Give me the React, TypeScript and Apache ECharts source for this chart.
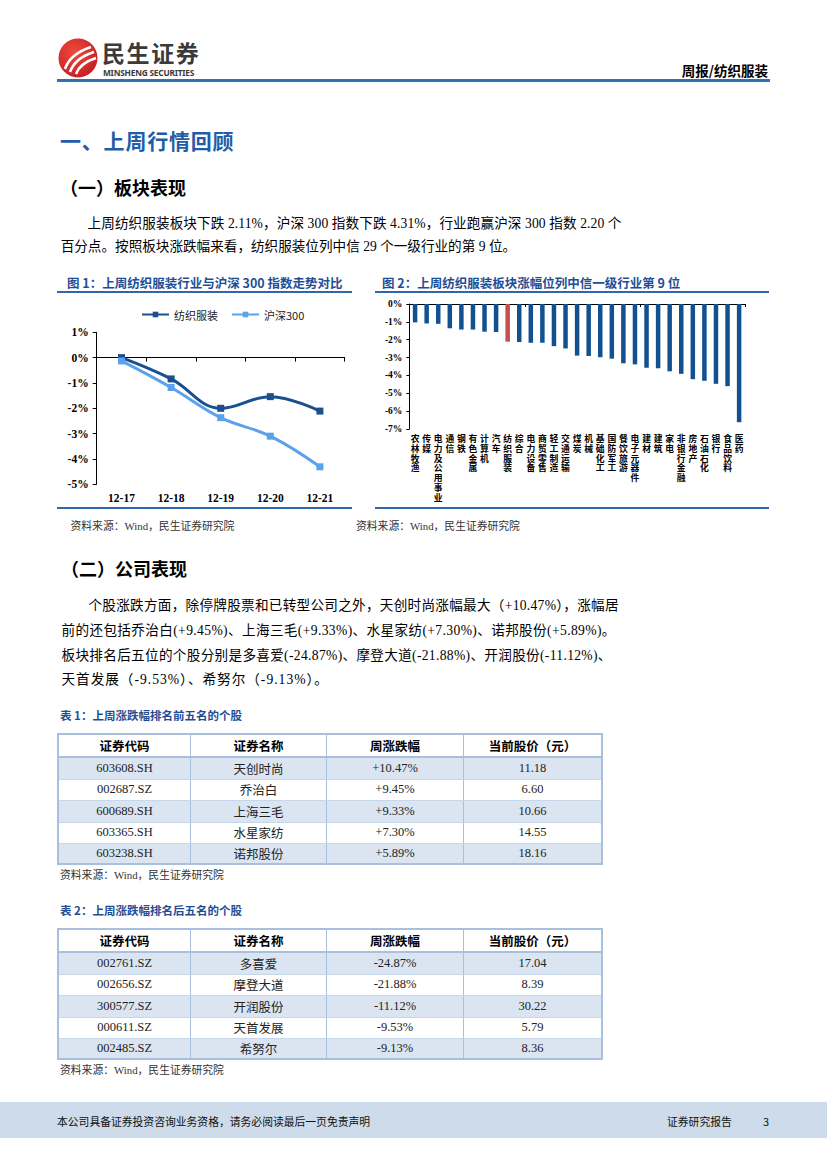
import React, { useEffect, useRef } from "react";
import * as echarts from "echarts";

// ---------- data ----------
const lineDates = ["12-17", "12-18", "12-19", "12-20", "12-21"];
const textileSeries = [0.0, -0.84, -2.0, -1.54, -2.11];
const hs300Series = [-0.13, -1.18, -2.37, -3.1, -4.31];
const lineSeriesNames = ["纺织服装", "沪深300"];

const industries = [
  "农林牧渔", "传媒", "电力及公用事业", "通信", "钢铁", "有色金属", "计算机", "汽车",
  "纺织服装", "综合", "电力设备", "商贸零售", "轻工制造", "交通运输", "煤炭", "机械",
  "基础化工", "国防军工", "餐饮旅游", "电子元器件", "建材", "建筑", "家电", "非银行金融",
  "房地产", "石油石化", "银行", "食品饮料", "医药",
];
const industryChanges = [
  -1.03, -1.09, -1.11, -1.36, -1.43, -1.43, -1.55, -1.57,
  -2.11, -2.13, -2.17, -2.17, -2.36, -2.49, -2.89, -2.91,
  -2.98, -3.06, -3.32, -3.38, -3.57, -3.6, -3.77, -3.91,
  -4.21, -4.3, -4.47, -4.6, -6.62,
];
const highlightIndustry = "纺织服装";

const tableHeaders = ["证券代码", "证券名称", "周涨跌幅", "当前股价（元）"];
const topCodes = ["603608.SH", "002687.SZ", "600689.SH", "603365.SH", "603238.SH"];
const topNames = ["天创时尚", "乔治白", "上海三毛", "水星家纺", "诺邦股份"];
const topChanges = ["+10.47%", "+9.45%", "+9.33%", "+7.30%", "+5.89%"];
const topPrices = ["11.18", "6.60", "10.66", "14.55", "18.16"];
const bottomCodes = ["002761.SZ", "002656.SZ", "300577.SZ", "000611.SZ", "002485.SZ"];
const bottomNames = ["多喜爱", "摩登大道", "开润股份", "天首发展", "希努尔"];
const bottomChanges = ["-24.87%", "-21.88%", "-11.12%", "-9.53%", "-9.13%"];
const bottomPrices = ["17.04", "8.39", "30.22", "5.79", "8.36"];

// ---------- styles ----------
const CJK = "'Noto Sans CJK SC', sans-serif";
const SERIF = "'Liberation Serif', 'Noto Sans CJK SC', serif";
const TITLE_BLUE = "#1F5DA8";
const FIG_BLUE = "#1F4E96";
const DARK_LINE = "#1B4F8E";
const LIGHT_LINE = "#5BA2EC";
const BAR_BLUE = "#13508F";
const BAR_RED = "#C4504D";

type TProps = {
  x: number; y: number; size: number; children: React.ReactNode;
  right?: boolean; bold?: boolean; color?: string; font?: string; ls?: number; lh?: number;
};
function T({ x, y, size, children, right, bold, color, font, ls, lh }: TProps) {
  const h = lh || Math.round(size * 1.3);
  const st: React.CSSProperties = {
    position: "absolute",
    top: y - h / 2,
    height: h,
    lineHeight: h + "px",
    fontSize: size,
    whiteSpace: "nowrap",
    fontWeight: bold ? 700 : 400,
    color: color || "#000",
    fontFamily: font || SERIF,
    letterSpacing: ls ? ls + "px" : undefined,
  };
  if (right) st.right = 827 - x; else st.left = x;
  return <div style={st}>{children}</div>;
}

function LineChart() {
  const ref = useRef<HTMLDivElement>(null);
  useEffect(() => {
    const chart = echarts.init(ref.current!, undefined, { renderer: "svg" });
    const axisFont = { fontFamily: "'Liberation Serif', serif", fontWeight: "bold" as const, color: "#000" };
    chart.setOption({
      animation: false,
      legend: {
        data: lineSeriesNames,
        left: 79,
        top: 9,
        itemWidth: 27,
        itemHeight: 7,
        itemGap: 13,
        textStyle: { fontSize: 11, fontFamily: CJK, color: "#222" },
      },
      grid: { left: 39.7, right: 7.3, top: 37.3, bottom: 22.7 },
      xAxis: {
        type: "category",
        data: lineDates,
        boundaryGap: true,
        axisLine: { lineStyle: { color: "#000", width: 1 } },
        axisTick: { show: true, length: 4, lineStyle: { color: "#000" } },
        axisLabel: { ...axisFont, fontSize: 11.5, margin: 8 },
      },
      yAxis: {
        type: "value",
        min: -5,
        max: 1,
        interval: 1,
        splitLine: { show: false },
        axisLine: { show: true, lineStyle: { color: "#000", width: 1 } },
        axisTick: { show: true, length: 4, lineStyle: { color: "#000" } },
        axisLabel: { ...axisFont, fontSize: 11.5, margin: 8, formatter: (v: number) => v + "%" },
      },
      series: [
        {
          name: lineSeriesNames[0], type: "line", data: textileSeries, smooth: 0.4,
          symbol: "rect", symbolSize: 7,
          lineStyle: { width: 3, color: DARK_LINE }, itemStyle: { color: DARK_LINE },
        },
        {
          name: lineSeriesNames[1], type: "line", data: hs300Series, smooth: 0.4,
          symbol: "rect", symbolSize: 7,
          lineStyle: { width: 3, color: LIGHT_LINE }, itemStyle: { color: LIGHT_LINE },
        },
      ],
    });
    return () => chart.dispose();
  }, []);
  return <div ref={ref} style={{ position: "absolute", left: 57, top: 295, width: 295, height: 212 }} />;
}

function BarChart() {
  const ref = useRef<HTMLDivElement>(null);
  useEffect(() => {
    const chart = echarts.init(ref.current!, undefined, { renderer: "svg" });
    chart.setOption({
      animation: false,
      grid: { left: 34.3, right: 25.1, top: 9, bottom: 78 },
      xAxis: [
        {
          type: "category", data: industries, position: "top",
          axisLine: { onZero: false, lineStyle: { color: "#000", width: 1 } },
          axisTick: { show: true, inside: true, length: 3, lineStyle: { color: "#000" } },
          axisLabel: { show: false },
        },
        {
          type: "category", data: industries, position: "bottom",
          axisLine: { show: false, onZero: false },
          axisTick: { show: false },
          axisLabel: {
            interval: 0,
            formatter: (v: string) => v.split("").join("\n"),
            fontSize: 8.8, lineHeight: 9.8, fontWeight: "bold",
            fontFamily: "'Liberation Sans', 'Noto Sans CJK SC', sans-serif",
            color: "#000", verticalAlign: "top", margin: 5,
          },
        },
      ],
      yAxis: {
        type: "value", min: -7, max: 0, interval: 1,
        splitLine: { show: false },
        axisLine: { show: true, lineStyle: { color: "#000", width: 1 } },
        axisTick: { show: true, length: 3, lineStyle: { color: "#000" } },
        axisLabel: {
          fontFamily: "'Liberation Serif', serif", fontWeight: "bold", fontSize: 9.5,
          color: "#000", margin: 7, formatter: (v: number) => v + "%",
        },
      },
      series: [
        {
          type: "bar", xAxisIndex: 0, barWidth: 4.5,
          data: industryChanges.map((v, i) => ({
            value: v,
            itemStyle: { color: industries[i] === highlightIndustry ? BAR_RED : BAR_BLUE },
          })),
        },
      ],
    });
    return () => chart.dispose();
  }, []);
  return <div ref={ref} style={{ position: "absolute", left: 375, top: 295, width: 395, height: 212 }} />;
}

function StockTable({ top, codes, names, changes, prices }: {
  top: number; codes: string[]; names: string[]; changes: string[]; prices: string[];
}) {
  const colW = [133, 137, 138, 138];
  const border = "#A9C0DD";
  const cell = (i: number, last: boolean): React.CSSProperties => ({
    width: colW[i], height: "100%", display: "flex", alignItems: "center", justifyContent: "center",
    borderRight: last ? "none" : `1px solid ${border}`, boxSizing: "border-box",
  });
  return (
    <div style={{
      position: "absolute", left: 57, top, width: 546, boxSizing: "border-box",
      border: `2px solid ${border}`,
    }}>
      <div style={{ display: "flex", height: 21, borderBottom: `2px solid ${border}`, fontFamily: CJK, fontWeight: 700, fontSize: 12.5 }}>
        {tableHeaders.map((h, i) => <div key={h} style={cell(i, i === 3)}>{h}</div>)}
      </div>
      {codes.map((c, r) => (
        <div key={c} style={{
          display: "flex", height: r === 4 ? 19 : 20.5, background: r % 2 === 0 ? "#DBE5F1" : "#FFFFFF",
          borderBottom: r === 4 ? "none" : "1px solid #C6D6EB", fontFamily: SERIF, fontSize: 12.5, color: "#222",
        }}>
          {[c, names[r], changes[r], prices[r]].map((v, i) => <div key={i} style={cell(i, i === 3)}>{v}</div>)}
        </div>
      ))}
    </div>
  );
}

function Logo() {
  return (
    <svg style={{ position: "absolute", left: 58, top: 38 }} width={42} height={42} viewBox="0 0 42 42">
      <defs>
        <radialGradient id="lg" cx="40%" cy="35%" r="70%">
          <stop offset="0%" stopColor="#F04A3C" />
          <stop offset="100%" stopColor="#C41E24" />
        </radialGradient>
      </defs>
      <ellipse cx={20} cy={20} rx={19.5} ry={19.5} fill="url(#lg)" />
      <path d="M7,31 Q12,16 33,9" stroke="#fff" strokeWidth={2.6} fill="none" />
      <path d="M12,34 Q17,20 36,14" stroke="#fff" strokeWidth={2.6} fill="none" />
      <path d="M18,36 Q22,25 38,20" stroke="#fff" strokeWidth={2.6} fill="none" />
    </svg>
  );
}

export default function App() {
  return (
    <div style={{ position: "absolute", left: 0, top: 0, width: 827, height: 1169, background: "#fff", overflow: "hidden", fontFamily: SERIF }}>
      {/* header */}
      <Logo />
      <T x={102} y={52} size={23} lh={23} bold font={CJK} color="#3A3A3A" ls={1.6}>民生证券</T>
      <T x={103} y={72} size={8.3} lh={9} bold font="'Noto Sans', sans-serif" color="#3A3A3A" ls={-0.2}>MINSHENG SECURITIES</T>
      <T x={768} y={69.5} size={13.5} right bold font={CJK}>周报/纺织服装</T>
      <div style={{ position: "absolute", left: 57, top: 79, width: 713, height: 3, background: "#3470B6" }} />

      {/* section 1 */}
      <T x={60} y={140} size={21} bold font={CJK} color={TITLE_BLUE} ls={0.8}>一、上周行情回顾</T>
      <T x={60} y={187} size={18} bold font={CJK}>（一）板块表现</T>
      <T x={87.5} y={224} size={13.6} ls={0.1}>上周纺织服装板块下跌 2.11%，沪深 300 指数下跌 4.31%，行业跑赢沪深 300 指数 2.20 个</T>
      <T x={60.7} y={247} size={13.6}>百分点。按照板块涨跌幅来看，纺织服装位列中信 29 个一级行业的第 9 位。</T>

      {/* figure titles */}
      <T x={67} y={283.3} size={12.5} bold font={CJK} color={FIG_BLUE}>图 1：上周纺织服装行业与沪深 300 指数走势对比</T>
      <div style={{ position: "absolute", left: 57, top: 291, width: 295, height: 1.5, background: "#2F66AE" }} />
      <T x={382} y={283.3} size={12.5} bold font={CJK} color={FIG_BLUE}>图 2：上周纺织服装板块涨幅位列中信一级行业第 9 位</T>
      <div style={{ position: "absolute", left: 375, top: 291, width: 394, height: 1.5, background: "#2F66AE" }} />

      <LineChart />
      <BarChart />

      <div style={{ position: "absolute", left: 57, top: 507, width: 295, height: 1.5, background: "#2F66AE" }} />
      <div style={{ position: "absolute", left: 375, top: 507, width: 394, height: 1.5, background: "#2F66AE" }} />
      <T x={70.5} y={525.5} size={10.8} color="#333">资料来源：Wind，民生证券研究院</T>
      <T x={356} y={525.5} size={10.8} color="#333">资料来源：Wind，民生证券研究院</T>

      {/* section 2 */}
      <T x={61} y={568} size={18} bold font={CJK}>（二）公司表现</T>
      <T x={88.5} y={606} size={13.6} ls={0.28}>个股涨跌方面，除停牌股票和已转型公司之外，天创时尚涨幅最大（+10.47%），涨幅居</T>
      <T x={61.5} y={631} size={13.6} ls={0.37}>前的还包括乔治白(+9.45%)、上海三毛(+9.33%)、水星家纺(+7.30%)、诺邦股份(+5.89%)。</T>
      <T x={61.5} y={656} size={13.6} ls={0.32}>板块排名后五位的个股分别是多喜爱(-24.87%)、摩登大道(-21.88%)、开润股份(-11.12%)、</T>
      <T x={61.5} y={680} size={13.6} ls={1}>天首发展（-9.53%）、希努尔（-9.13%）。</T>

      {/* table 1 */}
      <T x={60} y={715} size={11.5} bold font={CJK} color={FIG_BLUE}>表 1：上周涨跌幅排名前五名的个股</T>
      <StockTable top={733} codes={topCodes} names={topNames} changes={topChanges} prices={topPrices} />
      <T x={60} y={875} size={10.8} color="#333">资料来源：Wind，民生证券研究院</T>

      {/* table 2 */}
      <T x={60} y={910} size={11.5} bold font={CJK} color={FIG_BLUE}>表 2：上周涨跌幅排名后五名的个股</T>
      <StockTable top={928} codes={bottomCodes} names={bottomNames} changes={bottomChanges} prices={bottomPrices} />
      <T x={60} y={1070} size={10.8} color="#333">资料来源：Wind，民生证券研究院</T>

      {/* footer */}
      <div style={{ position: "absolute", left: 0, top: 1102, width: 827, height: 36, background: "#CDDBEA" }} />
      <T x={57} y={1121} size={10.8} font={CJK} color="#111">本公司具备证券投资咨询业务资格，请务必阅读最后一页免责声明</T>
      <T x={667} y={1121} size={10.8} font={CJK} color="#111">证券研究报告</T>
      <T x={763} y={1121} size={11} font={CJK} color="#111">3</T>
    </div>
  );
}
